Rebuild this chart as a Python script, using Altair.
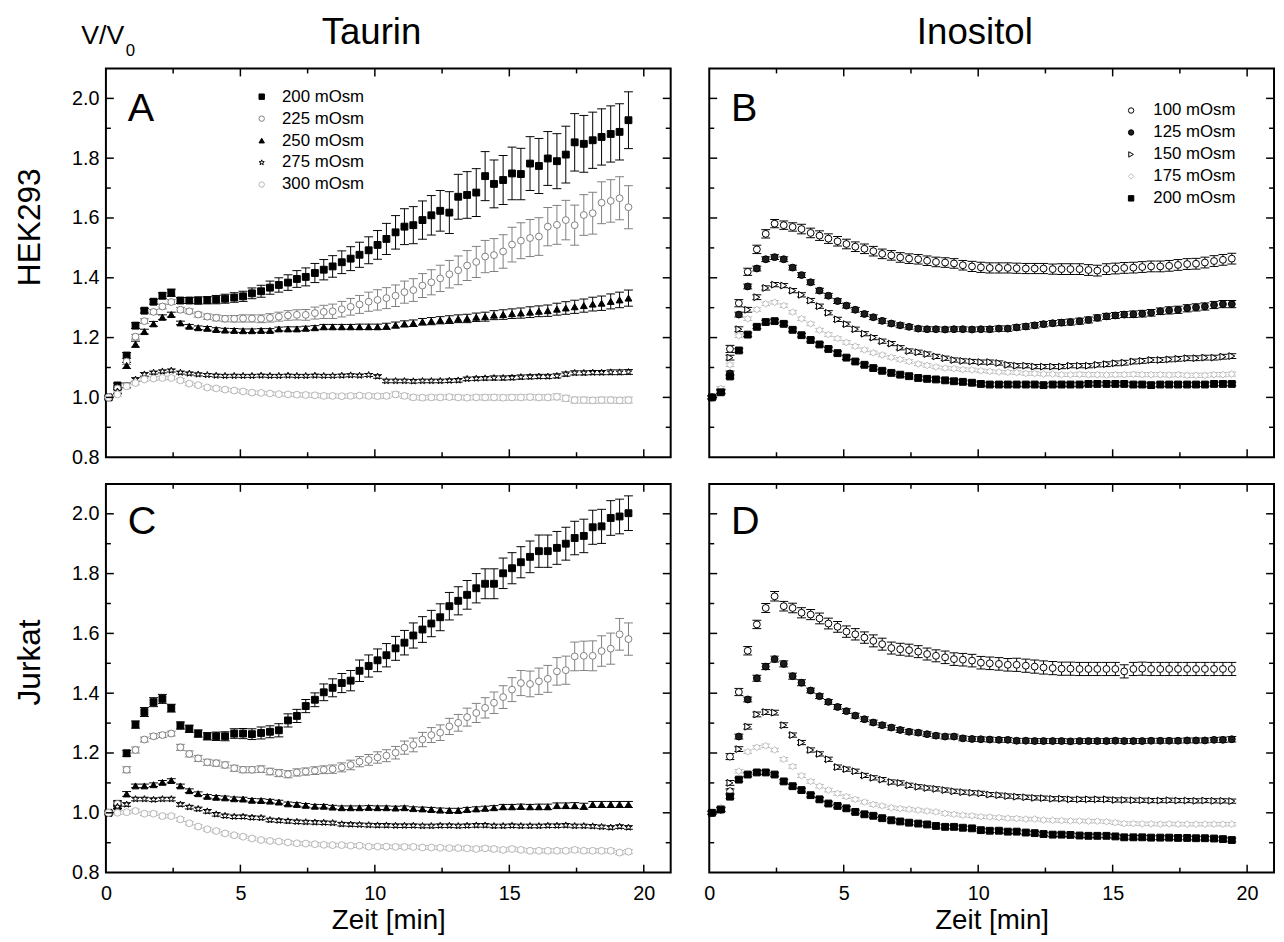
import altair as alt
import pandas as pd

FONT = "Liberation Sans"

# sampling times (min), one measurement every 20 s
TIME_MIN = [0.1, 0.43, 0.77, 1.1, 1.43, 1.77, 2.1, 2.43, 2.77, 3.1, 3.43, 3.77, 4.1, 4.43, 4.77,
            5.1, 5.43, 5.77, 6.1, 6.43, 6.77, 7.1, 7.43, 7.77, 8.1, 8.43, 8.77, 9.1, 9.43, 9.77,
            10.1, 10.43, 10.77, 11.1, 11.43, 11.77, 12.1, 12.43, 12.77, 13.1, 13.43, 13.77,
            14.1, 14.43, 14.77, 15.1, 15.43, 15.77, 16.1, 16.43, 16.77, 17.1, 17.43, 17.77,
            18.1, 18.43, 18.77, 19.1, 19.43]

SERIES_TAURIN = ["200 mOsm", "225 mOsm", "250 mOsm", "275 mOsm", "300 mOsm"]
SERIES_INOSITOL = ["100 mOsm", "125 mOsm", "150 mOsm", "175 mOsm", "200 mOsm"]

# ---------------- Panel A: HEK293, Taurin ----------------
A_200 = [1.00, 1.04, 1.14, 1.24, 1.29, 1.32, 1.34, 1.35, 1.324, 1.324, 1.324, 1.325, 1.327, 1.33,
         1.334, 1.338, 1.348, 1.355, 1.367, 1.376, 1.384, 1.396, 1.403, 1.416, 1.427, 1.438, 1.452,
         1.464, 1.477, 1.492, 1.51, 1.53, 1.552, 1.571, 1.576, 1.593, 1.609, 1.624, 1.618, 1.671,
         1.677, 1.685, 1.74, 1.714, 1.727, 1.749, 1.747, 1.782, 1.774, 1.799, 1.79, 1.812, 1.853,
         1.848, 1.86, 1.871, 1.881, 1.888, 1.927]
A_225 = [1.00, 1.03, 1.12, 1.203, 1.255, 1.286, 1.304, 1.319, 1.293, 1.288, 1.277, 1.27, 1.266,
         1.263, 1.263, 1.264, 1.264, 1.263, 1.266, 1.27, 1.274, 1.276, 1.276, 1.282, 1.286, 1.288,
         1.295, 1.303, 1.311, 1.32, 1.326, 1.332, 1.34, 1.352, 1.359, 1.374, 1.385, 1.398, 1.412,
         1.425, 1.441, 1.453, 1.471, 1.476, 1.488, 1.511, 1.524, 1.533, 1.538, 1.571, 1.577, 1.593,
         1.576, 1.61, 1.616, 1.651, 1.657, 1.666, 1.636]
A_250 = [1.00, 1.02, 1.107, 1.178, 1.22, 1.246, 1.268, 1.277, 1.249, 1.238, 1.233, 1.231, 1.227,
         1.225, 1.224, 1.223, 1.223, 1.224, 1.224, 1.229, 1.229, 1.229, 1.231, 1.233, 1.236, 1.236,
         1.236, 1.236, 1.236, 1.236, 1.236, 1.238, 1.242, 1.246, 1.248, 1.253, 1.255, 1.258, 1.26,
         1.263, 1.264, 1.268, 1.27, 1.275, 1.277, 1.28, 1.282, 1.285, 1.288, 1.29, 1.295, 1.299,
         1.303, 1.307, 1.312, 1.315, 1.321, 1.326, 1.332]
A_275 = [1.00, 1.02, 1.04, 1.06, 1.077, 1.083, 1.087, 1.09, 1.083, 1.08, 1.077, 1.075, 1.073, 1.072,
         1.072, 1.072, 1.072, 1.073, 1.072, 1.072, 1.073, 1.072, 1.072, 1.073, 1.072, 1.072, 1.073,
         1.074, 1.073, 1.075, 1.07, 1.055, 1.055, 1.055, 1.054, 1.055, 1.055, 1.055, 1.056, 1.057,
         1.062, 1.063, 1.064, 1.065, 1.065, 1.066, 1.068, 1.069, 1.07, 1.07, 1.072, 1.078, 1.082,
         1.082, 1.083, 1.083, 1.084, 1.084, 1.085]
A_300 = [1.00, 1.01, 1.037, 1.048, 1.06, 1.063, 1.065, 1.065, 1.057, 1.046, 1.041, 1.033, 1.03,
         1.026, 1.023, 1.02, 1.016, 1.015, 1.013, 1.011, 1.01, 1.009, 1.008, 1.007, 1.005, 1.005,
         1.004, 1.005, 1.006, 1.005, 1.004, 1.005, 1.01, 1.005, 1.0, 0.999, 1.0, 1.0, 1.001, 1.0,
         0.999, 1.0, 1.0, 1.0, 0.999, 1.0, 1.0, 1.001, 1.0, 1.0, 1.002, 0.997, 0.991, 0.991, 0.99,
         0.991, 0.991, 0.99, 0.991]
# error bars (SD) in 1/1000 V/V0
A_200_ERR = [5, 8, 10, 10, 8, 8, 10, 12, 10, 10, 12, 12, 14, 15, 16, 17, 18, 20, 22, 24,
             26, 28, 30, 32, 34, 36, 38, 40, 42, 45, 48, 52, 56, 60, 62, 64, 66, 68, 70, 75,
             78, 80, 82, 80, 82, 88, 86, 90, 92, 90, 92, 95, 96, 95, 94, 94, 94, 94, 95]
A_225_ERR = [5, 8, 10, 8, 8, 8, 8, 8, 8, 8, 8, 9, 10, 10, 11, 12, 12, 13, 14, 15,
             16, 17, 18, 20, 22, 24, 26, 28, 30, 32, 34, 35, 36, 37, 38, 40, 42, 44, 46, 48,
             50, 52, 54, 55, 56, 58, 60, 62, 63, 64, 65, 66, 67, 68, 70, 70, 71, 72, 72]
A_250_ERR = [5, 8, 10, 10, 8, 8, 8, 8, 6, 6, 6, 6, 6, 6, 6, 6, 6, 6, 6, 6,
             7, 7, 7, 7, 8, 8, 8, 8, 9, 9, 9, 10, 10, 10, 11, 11, 12, 12, 13, 13,
             14, 14, 15, 15, 16, 16, 17, 18, 18, 19, 20, 21, 22, 22, 23, 24, 25, 26, 27]
A_275_ERR = [5, 6, 8, 6, 6, 5, 5, 5, 5, 5, 5, 5, 5, 5, 5, 5, 5, 5, 5, 5,
             5, 5, 5, 5, 5, 5, 5, 5, 5, 5, 6, 6, 6, 6, 6, 6, 6, 6, 6, 6,
             6, 6, 6, 7, 7, 7, 7, 7, 7, 7, 7, 7, 7, 7, 7, 7, 8, 8, 8]
A_300_ERR = [5, 6, 8, 6, 6, 6, 6, 6, 6, 6, 6, 6, 6, 6, 6, 6, 6, 6, 6, 6,
             6, 7, 7, 7, 7, 7, 7, 7, 7, 7, 8, 8, 8, 8, 8, 8, 8, 8, 8, 8,
             8, 8, 9, 9, 9, 9, 9, 9, 9, 9, 10, 10, 10, 10, 10, 10, 10, 10, 10]

# ---------------- Panel B: HEK293, Inositol ----------------
B_100 = [1.0, 1.02, 1.162, 1.315, 1.42, 1.495, 1.547, 1.581, 1.576, 1.57, 1.563, 1.55, 1.541, 1.531,
         1.522, 1.513, 1.504, 1.497, 1.489, 1.48, 1.475, 1.468, 1.464, 1.462, 1.457, 1.453, 1.451,
         1.448, 1.442, 1.438, 1.435, 1.433, 1.433, 1.433, 1.432, 1.431, 1.431, 1.431, 1.429, 1.429,
         1.429, 1.429, 1.426, 1.424, 1.429, 1.431, 1.433, 1.434, 1.436, 1.438, 1.438, 1.44, 1.443,
         1.446, 1.447, 1.451, 1.456, 1.46, 1.464]
B_125 = [1.0, 1.02, 1.08, 1.277, 1.371, 1.431, 1.462, 1.469, 1.462, 1.434, 1.409, 1.385, 1.357, 1.34,
         1.322, 1.307, 1.293, 1.279, 1.268, 1.256, 1.247, 1.241, 1.236, 1.23, 1.228, 1.228, 1.227,
         1.228, 1.228, 1.227, 1.228, 1.228, 1.23, 1.23, 1.234, 1.237, 1.241, 1.245, 1.248, 1.25,
         1.252, 1.255, 1.259, 1.266, 1.271, 1.274, 1.277, 1.278, 1.28, 1.283, 1.288, 1.291, 1.293,
         1.298, 1.301, 1.304, 1.309, 1.312, 1.312]
B_150 = [1.0, 1.02, 1.133, 1.228, 1.293, 1.335, 1.366, 1.377, 1.374, 1.357, 1.343, 1.324, 1.305,
         1.283, 1.261, 1.245, 1.228, 1.213, 1.2, 1.188, 1.18, 1.166, 1.155, 1.151, 1.145, 1.137,
         1.131, 1.125, 1.122, 1.12, 1.118, 1.118, 1.115, 1.109, 1.106, 1.106, 1.103, 1.103, 1.103,
         1.103, 1.106, 1.106, 1.106, 1.109, 1.111, 1.114, 1.116, 1.12, 1.122, 1.125, 1.125, 1.127,
         1.129, 1.131, 1.131, 1.133, 1.133, 1.136, 1.138]
B_175 = [1.0, 1.03, 1.109, 1.206, 1.263, 1.294, 1.313, 1.318, 1.307, 1.285, 1.263, 1.246, 1.225,
         1.21, 1.197, 1.184, 1.171, 1.159, 1.149, 1.142, 1.134, 1.127, 1.12, 1.112, 1.107, 1.102,
         1.098, 1.096, 1.093, 1.092, 1.089, 1.087, 1.085, 1.084, 1.083, 1.08, 1.08, 1.078, 1.078,
         1.076, 1.076, 1.077, 1.076, 1.076, 1.075, 1.076, 1.076, 1.077, 1.076, 1.076, 1.076, 1.075,
         1.076, 1.074, 1.074, 1.074, 1.076, 1.076, 1.078]
B_200 = [1.0, 1.017, 1.07, 1.157, 1.21, 1.236, 1.252, 1.255, 1.246, 1.226, 1.208, 1.192, 1.177,
         1.162, 1.148, 1.133, 1.12, 1.109, 1.098, 1.089, 1.082, 1.076, 1.071, 1.065, 1.062, 1.06,
         1.057, 1.054, 1.052, 1.049, 1.045, 1.043, 1.043, 1.043, 1.043, 1.043, 1.043, 1.041, 1.043,
         1.043, 1.043, 1.043, 1.045, 1.045, 1.045, 1.045, 1.045, 1.043, 1.043, 1.041, 1.043, 1.043,
         1.043, 1.043, 1.043, 1.043, 1.045, 1.045, 1.045]
B_100_ERR = [5, 8, 12, 12, 12, 14, 14, 14, 14, 14, 16, 16, 16, 16, 16, 16, 16, 16, 16, 16,
             16, 16, 16, 16, 16, 16, 16, 16, 16, 17, 17, 17, 17, 17, 17, 17, 17, 17, 17, 18,
             18, 18, 18, 18, 18, 18, 18, 18, 18, 18, 18, 18, 18, 18, 18, 18, 18, 18, 18]
B_125_ERR = [5, 6, 8, 8, 8, 8, 8, 8, 8, 8, 8, 8, 8, 8, 8, 8, 8, 8, 8, 8,
             8, 8, 8, 8, 8, 8, 8, 8, 8, 8, 8, 9, 9, 9, 9, 9, 9, 9, 9, 10,
             10, 10, 10, 10, 10, 10, 10, 11, 11, 11, 11, 12, 12, 12, 12, 12, 12, 12, 12]
B_150_ERR = [5, 6, 8, 8, 8, 8, 7, 7, 7, 7, 7, 7, 7, 7, 7, 7, 7, 7, 7, 7,
             7, 7, 7, 7, 7, 7, 7, 7, 7, 7, 7, 7, 7, 7, 7, 7, 7, 7, 7, 7,
             7, 7, 7, 7, 8, 8, 8, 8, 8, 8, 8, 8, 8, 8, 8, 8, 8, 8, 8]
B_175_ERR = [5, 6, 6, 6, 6, 6, 6, 6, 6, 6, 6, 6, 6, 6, 6, 6, 6, 6, 6, 6,
             6, 6, 6, 6, 6, 6, 6, 6, 6, 6, 6, 6, 6, 6, 6, 6, 6, 6, 6, 6,
             6, 7, 7, 7, 7, 7, 7, 7, 7, 7, 7, 7, 7, 7, 7, 7, 7, 7, 7]
B_200_ERR = [5, 6, 6, 6, 6, 6, 6, 6, 6, 6, 6, 6, 6, 6, 6, 6, 6, 6, 6, 6,
             6, 6, 6, 6, 6, 6, 6, 6, 6, 6, 6, 6, 6, 6, 6, 6, 6, 6, 6, 6,
             6, 6, 6, 6, 6, 6, 6, 6, 6, 6, 6, 6, 6, 6, 6, 6, 6, 6, 6]

# ---------------- Panel C: Jurkat, Taurin ----------------
C_200 = [1.0, 1.03, 1.199, 1.295, 1.337, 1.37, 1.381, 1.35, 1.292, 1.281, 1.265, 1.256, 1.256,
         1.256, 1.265, 1.265, 1.263, 1.267, 1.271, 1.276, 1.309, 1.324, 1.357, 1.378, 1.403, 1.418,
         1.434, 1.442, 1.475, 1.491, 1.51, 1.527, 1.55, 1.569, 1.593, 1.613, 1.633, 1.654, 1.691,
         1.709, 1.729, 1.751, 1.766, 1.766, 1.801, 1.818, 1.838, 1.856, 1.875, 1.875, 1.886, 1.9,
         1.919, 1.926, 1.955, 1.958, 1.986, 1.991, 2.002]
C_225 = [1.0, 1.03, 1.144, 1.21, 1.245, 1.256, 1.26, 1.265, 1.219, 1.197, 1.182, 1.169, 1.166, 1.16,
         1.149, 1.144, 1.144, 1.146, 1.138, 1.133, 1.129, 1.135, 1.138, 1.141, 1.144, 1.146, 1.152,
         1.16, 1.171, 1.177, 1.185, 1.191, 1.201, 1.218, 1.227, 1.245, 1.26, 1.268, 1.289, 1.301,
         1.32, 1.334, 1.351, 1.368, 1.387, 1.412, 1.434, 1.431, 1.44, 1.448, 1.473, 1.477, 1.523,
         1.525, 1.525, 1.541, 1.549, 1.597, 1.581]
C_250 = [1.0, 1.02, 1.063, 1.09, 1.09, 1.094, 1.102, 1.108, 1.09, 1.074, 1.064, 1.055, 1.052, 1.05,
         1.047, 1.046, 1.042, 1.041, 1.039, 1.036, 1.03, 1.028, 1.025, 1.022, 1.022, 1.019, 1.017,
         1.017, 1.017, 1.018, 1.017, 1.017, 1.016, 1.017, 1.014, 1.013, 1.011, 1.009, 1.008, 1.008,
         1.011, 1.013, 1.015, 1.017, 1.02, 1.02, 1.021, 1.02, 1.02, 1.02, 1.024, 1.024, 1.024, 1.022,
         1.028, 1.028, 1.028, 1.028, 1.028]
C_275 = [1.0, 1.02, 1.028, 1.046, 1.046, 1.044, 1.046, 1.046, 1.028, 1.019, 1.013, 1.005, 0.995,
         0.99, 0.987, 0.987, 0.984, 0.983, 0.976, 0.974, 0.972, 0.97, 0.969, 0.968, 0.967, 0.966,
         0.962, 0.961, 0.96, 0.959, 0.958, 0.958, 0.957, 0.957, 0.957, 0.956, 0.956, 0.957, 0.957,
         0.956, 0.957, 0.958, 0.958, 0.956, 0.956, 0.957, 0.956, 0.956, 0.956, 0.957, 0.957, 0.958,
         0.956, 0.956, 0.955, 0.953, 0.951, 0.954, 0.951]
C_300 = [1.0, 1.0, 1.002, 1.006, 0.997, 0.997, 0.989, 0.989, 0.978, 0.965, 0.954, 0.945, 0.939,
         0.931, 0.925, 0.92, 0.914, 0.909, 0.906, 0.904, 0.901, 0.898, 0.897, 0.895, 0.893, 0.892,
         0.892, 0.89, 0.89, 0.887, 0.887, 0.887, 0.886, 0.886, 0.886, 0.884, 0.884, 0.883, 0.882,
         0.882, 0.881, 0.879, 0.881, 0.879, 0.876, 0.879, 0.876, 0.873, 0.873, 0.873, 0.873, 0.873,
         0.876, 0.873, 0.873, 0.873, 0.873, 0.867, 0.87]
C_200_ERR = [5, 10, 10, 12, 15, 15, 15, 13, 12, 12, 12, 12, 14, 15, 16, 17, 18, 20, 20, 22,
             22, 22, 22, 23, 28, 30, 32, 34, 36, 37, 38, 39, 40, 41, 42, 43, 44, 45, 46, 47,
             48, 49, 50, 50, 51, 52, 52, 53, 54, 54, 55, 55, 56, 56, 57, 57, 58, 58, 58]
C_225_ERR = [5, 8, 10, 10, 8, 8, 8, 8, 10, 10, 10, 10, 10, 10, 10, 10, 10, 11, 11, 12,
             12, 12, 12, 13, 13, 14, 15, 16, 17, 18, 19, 20, 21, 22, 23, 24, 25, 26, 27, 28,
             30, 32, 34, 36, 38, 40, 42, 43, 44, 45, 46, 47, 48, 49, 50, 51, 52, 53, 54]
C_250_ERR = [5, 6, 8, 6, 6, 6, 6, 6, 6, 6, 6, 6, 6, 6, 6, 6, 6, 6, 6, 6,
             6, 6, 6, 6, 6, 6, 6, 6, 6, 6, 6, 6, 6, 6, 6, 6, 7, 7, 7, 7,
             7, 7, 7, 7, 8, 8, 8, 8, 9, 9, 9, 9, 10, 10, 10, 10, 10, 10, 10]
C_275_ERR = [5, 6, 6, 6, 6, 6, 6, 6, 6, 6, 6, 6, 6, 6, 6, 6, 6, 6, 6, 6,
             6, 6, 6, 6, 6, 6, 6, 6, 6, 6, 6, 6, 6, 6, 6, 6, 6, 6, 6, 6,
             6, 6, 6, 6, 6, 6, 6, 6, 6, 6, 6, 6, 6, 6, 6, 6, 6, 6, 6]
C_300_ERR = [5, 6, 6, 6, 6, 6, 6, 6, 6, 6, 6, 6, 6, 6, 6, 6, 6, 6, 6, 6,
             6, 6, 6, 6, 6, 6, 6, 6, 6, 6, 6, 6, 6, 6, 6, 6, 6, 6, 6, 6,
             7, 7, 7, 7, 7, 7, 7, 7, 7, 7, 7, 7, 7, 7, 7, 7, 7, 7, 7]

# ---------------- Panel D: Jurkat, Inositol ----------------
D_100 = [1.0, 1.011, 1.188, 1.404, 1.542, 1.63, 1.685, 1.724, 1.691, 1.685, 1.669, 1.663, 1.65,
         1.633, 1.622, 1.606, 1.597, 1.586, 1.575, 1.564, 1.551, 1.547, 1.544, 1.539, 1.531, 1.525,
         1.52, 1.514, 1.512, 1.509, 1.502, 1.5, 1.498, 1.495, 1.495, 1.492, 1.489, 1.486, 1.484,
         1.482, 1.482, 1.481, 1.481, 1.481, 1.481, 1.481, 1.473, 1.481, 1.482, 1.481, 1.481, 1.481,
         1.481, 1.481, 1.481, 1.481, 1.481, 1.481, 1.481]
D_125 = [1.0, 1.011, 1.072, 1.255, 1.379, 1.45, 1.489, 1.514, 1.498, 1.457, 1.435, 1.409, 1.39,
         1.371, 1.354, 1.34, 1.325, 1.313, 1.302, 1.293, 1.285, 1.277, 1.271, 1.268, 1.263, 1.258,
         1.255, 1.255, 1.249, 1.247, 1.246, 1.245, 1.244, 1.244, 1.241, 1.241, 1.24, 1.24, 1.24,
         1.24, 1.239, 1.24, 1.24, 1.24, 1.24, 1.241, 1.24, 1.24, 1.24, 1.241, 1.241, 1.241, 1.241,
         1.242, 1.242, 1.242, 1.244, 1.244, 1.246]
D_150 = [1.0, 1.011, 1.1, 1.213, 1.288, 1.329, 1.337, 1.335, 1.293, 1.26, 1.235, 1.21, 1.197, 1.179,
         1.153, 1.146, 1.139, 1.125, 1.117, 1.111, 1.103, 1.1, 1.092, 1.087, 1.083, 1.08, 1.076,
         1.072, 1.069, 1.067, 1.065, 1.061, 1.059, 1.056, 1.054, 1.052, 1.05, 1.049, 1.047, 1.047,
         1.045, 1.045, 1.045, 1.045, 1.045, 1.043, 1.043, 1.042, 1.042, 1.041, 1.041, 1.042, 1.041,
         1.041, 1.04, 1.041, 1.04, 1.04, 1.039]
D_175 = [1.0, 1.017, 1.072, 1.139, 1.204, 1.219, 1.224, 1.21, 1.179, 1.155, 1.124, 1.105, 1.089,
         1.076, 1.065, 1.054, 1.045, 1.036, 1.028, 1.023, 1.017, 1.014, 1.012, 1.009, 1.006, 1.003,
         0.998, 0.995, 0.992, 0.99, 0.987, 0.986, 0.984, 0.982, 0.981, 0.979, 0.979, 0.976, 0.975,
         0.974, 0.973, 0.973, 0.972, 0.972, 0.97, 0.967, 0.964, 0.964, 0.963, 0.963, 0.962, 0.963,
         0.962, 0.962, 0.962, 0.962, 0.962, 0.962, 0.962]
D_200 = [1.0, 1.011, 1.054, 1.111, 1.128, 1.135, 1.135, 1.128, 1.105, 1.089, 1.076, 1.059, 1.045,
         1.031, 1.023, 1.015, 1.003, 0.995, 0.99, 0.982, 0.975, 0.971, 0.967, 0.964, 0.961, 0.956,
         0.953, 0.953, 0.95, 0.948, 0.942, 0.94, 0.94, 0.937, 0.937, 0.934, 0.932, 0.929, 0.927,
         0.927, 0.926, 0.924, 0.923, 0.923, 0.923, 0.921, 0.918, 0.918, 0.918, 0.917, 0.917, 0.917,
         0.916, 0.916, 0.915, 0.915, 0.914, 0.912, 0.909]
D_100_ERR = [5, 8, 10, 12, 14, 14, 15, 16, 16, 16, 17, 17, 18, 18, 18, 19, 19, 19, 20, 20,
             20, 20, 20, 20, 20, 20, 21, 21, 21, 21, 21, 21, 21, 21, 22, 22, 22, 22, 22, 22,
             22, 22, 22, 22, 22, 22, 22, 22, 22, 22, 22, 22, 22, 22, 22, 22, 22, 22, 22]
D_125_ERR = [5, 6, 8, 8, 8, 10, 10, 10, 10, 10, 10, 8, 8, 8, 8, 8, 8, 8, 8, 8,
             8, 8, 8, 8, 8, 8, 8, 8, 8, 8, 8, 8, 8, 8, 8, 8, 8, 8, 8, 8,
             8, 8, 8, 8, 8, 8, 8, 8, 8, 8, 8, 8, 8, 8, 8, 8, 8, 9, 9]
D_150_ERR = [5, 6, 8, 8, 8, 8, 8, 8, 8, 7, 7, 7, 7, 7, 7, 7, 7, 7, 7, 7,
             7, 7, 7, 7, 7, 7, 7, 7, 7, 7, 7, 7, 7, 7, 7, 7, 7, 7, 7, 7,
             7, 7, 7, 7, 7, 7, 7, 7, 7, 7, 7, 7, 7, 7, 7, 7, 7, 7, 7]
D_175_ERR = [5, 6, 6, 6, 6, 6, 6, 6, 6, 6, 6, 6, 6, 6, 6, 6, 6, 6, 6, 6,
             6, 6, 6, 6, 6, 6, 6, 6, 6, 6, 6, 6, 6, 6, 6, 6, 6, 6, 6, 6,
             6, 6, 6, 6, 6, 6, 6, 6, 6, 6, 6, 6, 6, 6, 6, 6, 6, 6, 6]
D_200_ERR = [5, 6, 6, 6, 6, 6, 6, 6, 6, 6, 6, 6, 6, 6, 6, 6, 6, 6, 6, 6,
             6, 6, 6, 6, 6, 6, 6, 6, 6, 6, 6, 6, 6, 6, 6, 6, 6, 6, 6, 6,
             6, 6, 6, 6, 6, 6, 6, 6, 6, 6, 6, 6, 6, 6, 6, 6, 6, 6, 6]

# axis tick positions
X_LABELS = [0, 5, 10, 15, 20]
X_MAJOR_IN = [5, 10, 15, 20]
X_MINOR = [2.5, 7.5, 12.5, 17.5]
Y_LABELS = [0.8, 1.0, 1.2, 1.4, 1.6, 1.8, 2.0]
Y_MAJOR_IN = [1.0, 1.2, 1.4, 1.6, 1.8, 2.0]
Y_MINOR = [0.9, 1.1, 1.3, 1.5, 1.7, 1.9]

# ---------------- styles ----------------
STAR = ("M0,-1L0.235,-0.324L0.951,-0.309L0.38,0.124L0.588,0.809L0,0.4L-0.588,0.809"
        "L-0.38,0.124L-0.951,-0.309L-0.235,-0.324Z")
STYLE_TAURIN = {
    "shape": ["square", "circle", "triangle-up", STAR, "circle"],
    "fill": ["#000000", "#ffffff", "#000000", "#ffffff", "#ffffff"],
    "stroke": ["#000000", "#7f7f7f", "#000000", "#000000", "#b5b5b5"],
}
STYLE_INOSITOL = {
    "shape": ["circle", "circle", "triangle-right", "diamond", "square"],
    "fill": ["#ffffff", "#1c1c1c", "#ffffff", "#ffffff", "#000000"],
    "stroke": ["#000000", "#000000", "#000000", "#bdbdbd", "#000000"],
}

W, H = 571, 393
XS = alt.Scale(domain=[0, 21], nice=False, zero=False)
YS = alt.Scale(domain=[0.8, 2.1], nice=False, zero=False)


def text_layer(txt, x, y, size, align="left"):
    return alt.Chart(pd.DataFrame({"txt": [txt]})).mark_text(
        fontSize=size, align=align, baseline="alphabetic", color="black").encode(
        x=alt.value(x), y=alt.value(y), text="txt:N")


def make_panel(series, vals, errs, style, letter, letter_y, y_title=None, y_title_pos=None,
               x_title=None, legend_xy=None, title=None, extra=None):
    rows = []
    for name, v_list, e_list in zip(series, vals, errs):
        for t, v, e in zip(TIME_MIN, v_list, e_list):
            rows.append({"t": t, "v": v, "lo": v - e / 1000.0, "hi": v + e / 1000.0, "s": name})
    df = pd.DataFrame(rows)

    if x_title:
        xaxis = alt.Axis(values=X_LABELS, format="d", ticks=False, domain=False, grid=False,
                         labelFontSize=20, labelPadding=11, labelFlush=False, labelColor="black",
                         title=x_title, titleFontSize=28, titleFontWeight="normal",
                         titlePadding=4, titleColor="black")
    else:
        xaxis = None
    if y_title:
        yaxis = alt.Axis(values=Y_LABELS, format=".1f", ticks=False, domain=False, grid=False,
                         labelFontSize=20, labelPadding=7, labelFlush=False, labelColor="black",
                         title=y_title, titleFontSize=32, titleFontWeight="normal",
                         titlePadding=25, titleColor="black", titleY=y_title_pos)
    else:
        yaxis = None

    base = alt.Chart(df)
    x_enc = alt.X("t:Q", scale=XS, axis=xaxis)
    layers = []
    # error bars with caps, one colour per series
    for name, c in zip(series, style["stroke"]):
        sub = base.transform_filter(alt.datum.s == name)
        layers.append(sub.mark_rule(color=c, strokeWidth=1).encode(
            x=x_enc, y=alt.Y("lo:Q", scale=YS, axis=yaxis), y2="hi:Q"))
        layers.append(sub.mark_tick(color=c, orient="horizontal", size=9, thickness=1,
                                    opacity=1).encode(
            x=x_enc, y=alt.Y("lo:Q", scale=YS, axis=yaxis)))
        layers.append(sub.mark_tick(color=c, orient="horizontal", size=9, thickness=1,
                                    opacity=1).encode(
            x=x_enc, y=alt.Y("hi:Q", scale=YS, axis=yaxis)))

    if legend_xy:
        leg = alt.Legend(orient="none", legendX=legend_xy[0], legendY=legend_xy[1], title=None,
                         labelFontSize=17, labelColor="black", symbolSize=30, symbolStrokeWidth=1,
                         rowPadding=4.2, labelOffset=legend_xy[2], padding=0)
    else:
        leg = None
    pts = base.mark_point(filled=True, size=48, strokeWidth=1, opacity=1).encode(
        x=x_enc,
        y=alt.Y("v:Q", scale=YS, axis=yaxis),
        shape=alt.Shape("s:N", scale=alt.Scale(domain=series, range=style["shape"]), legend=leg),
        fill=alt.Fill("s:N", scale=alt.Scale(domain=series, range=style["fill"]), legend=leg),
        stroke=alt.Stroke("s:N", scale=alt.Scale(domain=series, range=style["stroke"]), legend=leg),
    )
    layers.append(pts)

    # inward ticks on all four sides
    for tvals, ln in [(X_MAJOR_IN, 8), (X_MINOR, 5)]:
        d = pd.DataFrame({"p": tvals})
        layers.append(alt.Chart(d).mark_rule(color="black", strokeWidth=1.5).encode(
            x=alt.X("p:Q", scale=XS, axis=xaxis), y=alt.value(H), y2=alt.value(H - ln)))
        layers.append(alt.Chart(d).mark_rule(color="black", strokeWidth=1.5).encode(
            x=alt.X("p:Q", scale=XS, axis=xaxis), y=alt.value(0), y2=alt.value(ln)))
    for tvals, ln in [(Y_MAJOR_IN, 8), (Y_MINOR, 5)]:
        d = pd.DataFrame({"p": tvals})
        layers.append(alt.Chart(d).mark_rule(color="black", strokeWidth=1.5).encode(
            y=alt.Y("p:Q", scale=YS, axis=yaxis), x=alt.value(0), x2=alt.value(ln)))
        layers.append(alt.Chart(d).mark_rule(color="black", strokeWidth=1.5).encode(
            y=alt.Y("p:Q", scale=YS, axis=yaxis), x=alt.value(W), x2=alt.value(W - ln)))

    layers.append(text_layer(letter, 22, letter_y, 40))
    if title:
        layers.append(text_layer(title, W / 2 - 17, -25, 37, align="center"))
    if extra:
        layers.extend(extra)

    return alt.layer(*layers).properties(width=W, height=H)


vv = [text_layer("V/V", -25, -25, 27), text_layer("0", 20, -13, 17)]

panel_a = make_panel(SERIES_TAURIN, [A_200, A_225, A_250, A_275, A_300],
                     [A_200_ERR, A_225_ERR, A_250_ERR, A_275_ERR, A_300_ERR],
                     STYLE_TAURIN, "A", 53, y_title="HEK293", y_title_pos=160,
                     legend_xy=(149, 20, 12), title="Taurin", extra=vv)
panel_b = make_panel(SERIES_INOSITOL, [B_100, B_125, B_150, B_175, B_200],
                     [B_100_ERR, B_125_ERR, B_150_ERR, B_175_ERR, B_200_ERR],
                     STYLE_INOSITOL, "B", 53, legend_xy=(418, 34, 14), title="Inositol")
panel_c = make_panel(SERIES_TAURIN, [C_200, C_225, C_250, C_275, C_300],
                     [C_200_ERR, C_225_ERR, C_250_ERR, C_275_ERR, C_300_ERR],
                     STYLE_TAURIN, "C", 51, y_title="Jurkat", y_title_pos=180,
                     x_title="Zeit [min]")
panel_d = make_panel(SERIES_INOSITOL, [D_100, D_125, D_150, D_175, D_200],
                     [D_100_ERR, D_125_ERR, D_150_ERR, D_175_ERR, D_200_ERR],
                     STYLE_INOSITOL, "D", 51, x_title="Zeit [min]")

indep = dict(x="independent", y="independent", shape="independent",
             fill="independent", stroke="independent")
chart = alt.concat(panel_a, panel_b, panel_c, panel_d, columns=2,
                   spacing={"row": 27, "column": 39}, bounds="flush").resolve_scale(
    **indep).properties(padding={"left": 5, "top": 0, "right": 0, "bottom": 0})

chart = chart.configure(font=FONT).configure_view(stroke="black", strokeWidth=2).configure_axis(
    labelFont=FONT, titleFont=FONT).configure_legend(labelFont=FONT).configure_text(font=FONT)

chart.save("out.html", embed_options={"renderer": "svg", "actions": False})
